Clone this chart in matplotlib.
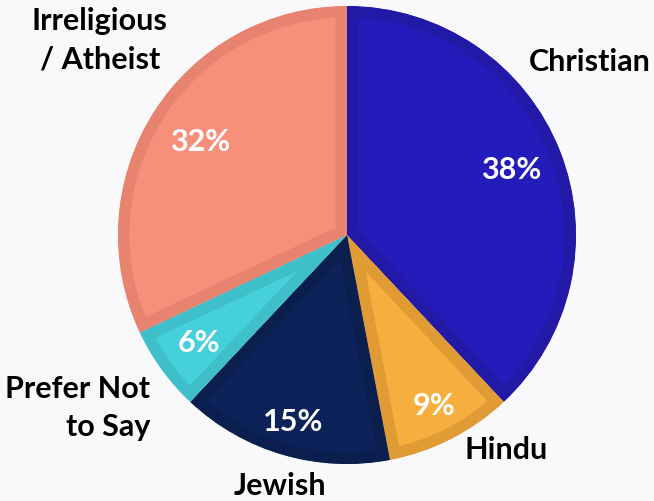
import matplotlib
matplotlib.use('Agg')
import matplotlib.pyplot as plt
import numpy as np

# Religion shares (percent), clockwise from 12 o'clock
religions = ['Christian', 'Hindu', 'Jewish', 'Prefer Not\nto Say', 'Irreligious\n/ Atheist']
shares = [38, 9, 15, 6, 32]
face_colors = ['#241bbb', '#f6ae3e', '#0d2259', '#45d0dc', '#f6907a']
edge_colors = ['#2219a6', '#e09b35', '#0b1f4f', '#3ebfc9', '#e7836f']

plt.rcParams['font.family'] = ['Lato', 'DejaVu Sans']

fig = plt.figure(figsize=(6.54, 5.01), dpi=100)
fig.patch.set_facecolor('#f9f9fc')
ax = fig.add_axes([0, 0, 1, 1])
ax.set_facecolor('#f9f9fc')

wedges, _, autotexts = ax.pie(shares, colors=face_colors, startangle=90, counterclock=False,
                              autopct='%d%%', pctdistance=0.8,
                              textprops=dict(color='white', fontsize=22, fontweight='bold'))

# inner border: thick edge clipped to its own wedge
for w, ec in zip(wedges, edge_colors):
    w.set_edgecolor(ec)
    w.set_linewidth(16.5)
    w.set_joinstyle('round')
    w.set_clip_path(w)
    w.set_clip_on(True)

# percent label radii (fraction of radius)
pct_dist = [0.77, 0.84, 0.85, 0.80, 0.76]
cum = np.cumsum([0] + shares)
for i, t in enumerate(autotexts):
    mid = np.deg2rad(90 - 360 * (cum[i] + shares[i] / 2) / 100)
    t.set_position((pct_dist[i] * np.cos(mid), pct_dist[i] * np.sin(mid)))
    t.set_ha('center')
    t.set_va('center')

# outside labels
label_pos = [(1.061, 0.755, 'center'), (0.694, -0.939, 'center'), (-0.293, -1.096, 'center'),
             (-0.860, -0.755, 'right'), (-1.079, 0.852, 'center')]
for name, (x, y, ha) in zip(religions, label_pos):
    ax.text(x, y, name, ha=ha, va='center', fontsize=22, fontweight='bold',
            color='black', linespacing=1.45, multialignment=ha)

ax.set_xlim(-347 / 229, (654 - 347) / 229)
ax.set_ylim(-(501 - 235) / 229, 235 / 229)
ax.set_aspect('auto')
ax.axis('off')

fig.savefig('out.png', dpi=100, facecolor=fig.get_facecolor())
